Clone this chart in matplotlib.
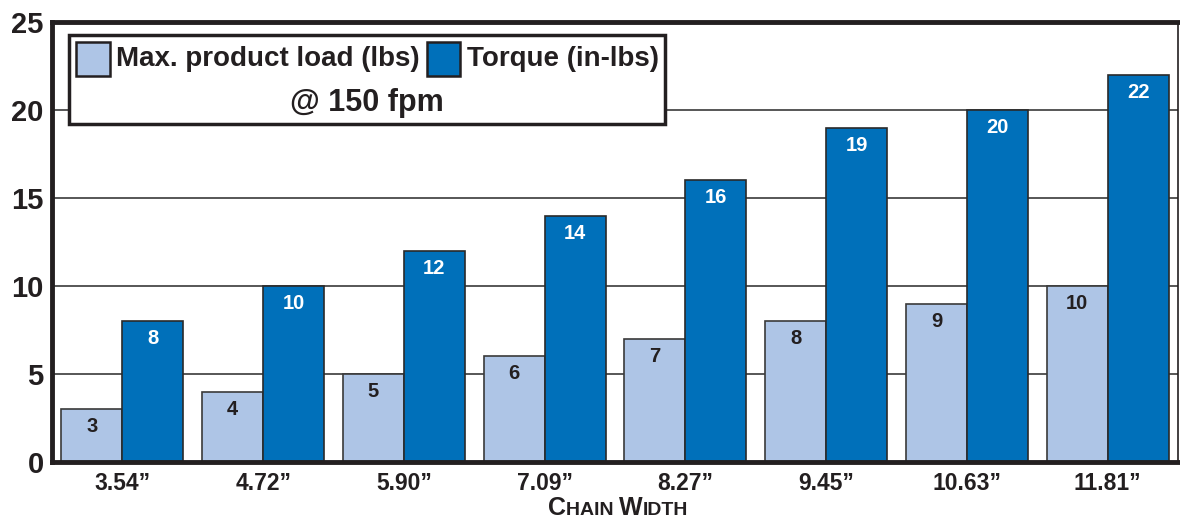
import matplotlib
matplotlib.use("Agg")
import matplotlib.pyplot as plt
import numpy as np
from matplotlib.offsetbox import TextArea, HPacker, VPacker, DrawingArea, AnchoredOffsetbox
from matplotlib.patches import Rectangle

categories = ['3.54\u201d', '4.72\u201d', '5.90\u201d', '7.09\u201d', '8.27\u201d', '9.45\u201d', '10.63\u201d', '11.81\u201d']
max_load = [3, 4, 5, 6, 7, 8, 9, 10]
torque = [8, 10, 12, 14, 16, 19, 20, 22]
yticks = [0, 5, 10, 15, 20, 25]

light = '#AEC5E6'
dark = '#0070BA'
ink = '#231F20'
font = 'Liberation Sans'

plt.rcParams['font.family'] = [font, 'DejaVu Sans']

fig = plt.figure(figsize=(11.8, 5.22), dpi=100)
ax = fig.add_axes([52/1180, 1 - 462/522, 1126/1180, 440/522])

x = np.arange(len(categories))
w = 61/140.75
ax.bar(x - w/2, max_load, w, color=light, edgecolor='#3a3a3a', linewidth=1.2, zorder=2)
ax.bar(x + w/2, torque, w, color=dark, edgecolor='#2a2a2a', linewidth=1.2, zorder=2)

for xi, v in zip(x, max_load):
    ax.text(xi - w/2, v - 0.45, str(v), ha='center', va='top', fontsize=14.5,
            fontweight='bold', color=ink, zorder=3)
for xi, v in zip(x, torque):
    ax.text(xi + w/2, v - 0.45, str(v), ha='center', va='top', fontsize=14.5,
            fontweight='bold', color='white', zorder=3)

ax.set_xlim(-0.5, len(categories) - 0.5)
ax.set_ylim(0, 25)
ax.set_yticks(yticks)
ax.set_yticklabels([str(t) for t in yticks], fontsize=21, fontweight='bold', color=ink)
ax.set_xticks(x)
ax.set_xticklabels(categories, fontsize=16.5, fontweight='bold', color=ink)
ax.tick_params(axis='both', length=0)
ax.tick_params(axis='y', pad=6)
ax.tick_params(axis='x', pad=7)

for t in [5, 10, 15, 20]:
    ax.axhline(t, color='#3a3a3a', linewidth=1.2, zorder=1)

ax.spines['left'].set_linewidth(3.5)
ax.spines['bottom'].set_linewidth(3.5)
ax.spines['top'].set_linewidth(3.5)
ax.spines['right'].set_linewidth(1.2)
for s in ax.spines.values():
    s.set_color(ink)

# Legend box
def patch_box(color):
    da = DrawingArea(26, 26, 0, 0)
    da.add_artist(Rectangle((1, 1), 24, 24, facecolor=color, edgecolor=ink, linewidth=1.8))
    return da

tp = dict(fontsize=20, fontweight='bold', color=ink, family=font)
tp2 = dict(fontsize=22, fontweight='bold', color=ink, family=font)
row1 = HPacker(children=[patch_box(light), TextArea('Max. product load (lbs)', textprops=tp),
                         patch_box(dark), TextArea('Torque (in-lbs)', textprops=tp)],
               align='center', pad=0, sep=4)
row2 = TextArea('@ 150 fpm', textprops=tp2)
box = VPacker(children=[row1, row2], align='center', pad=0, sep=8)
anch = AnchoredOffsetbox(loc='upper left', child=box, pad=0.42, borderpad=0,
                         bbox_to_anchor=(69/1180, 1 - 35/522), bbox_transform=fig.transFigure,
                         frameon=True)
anch.patch.set_edgecolor(ink)
anch.patch.set_linewidth(2.5)
anch.patch.set_boxstyle('square', pad=0)
anch.set_zorder(5)
ax.add_artist(anch)

# X axis title in small caps
big = dict(fontsize=18, fontweight='bold', color=ink, family=font)
small = dict(fontsize=14, fontweight='bold', color=ink, family=font)
title = HPacker(children=[TextArea('C', textprops=big), TextArea('HAIN ', textprops=small),
                          TextArea('W', textprops=big), TextArea('IDTH', textprops=small)],
                align='baseline', pad=0, sep=0)
ab = AnchoredOffsetbox(loc='center', child=title, pad=0, borderpad=0, frameon=False,
                       bbox_to_anchor=(618/1180, 1 - 508/522), bbox_transform=fig.transFigure)
fig.add_artist(ab)

fig.savefig('out.png', dpi=100)
